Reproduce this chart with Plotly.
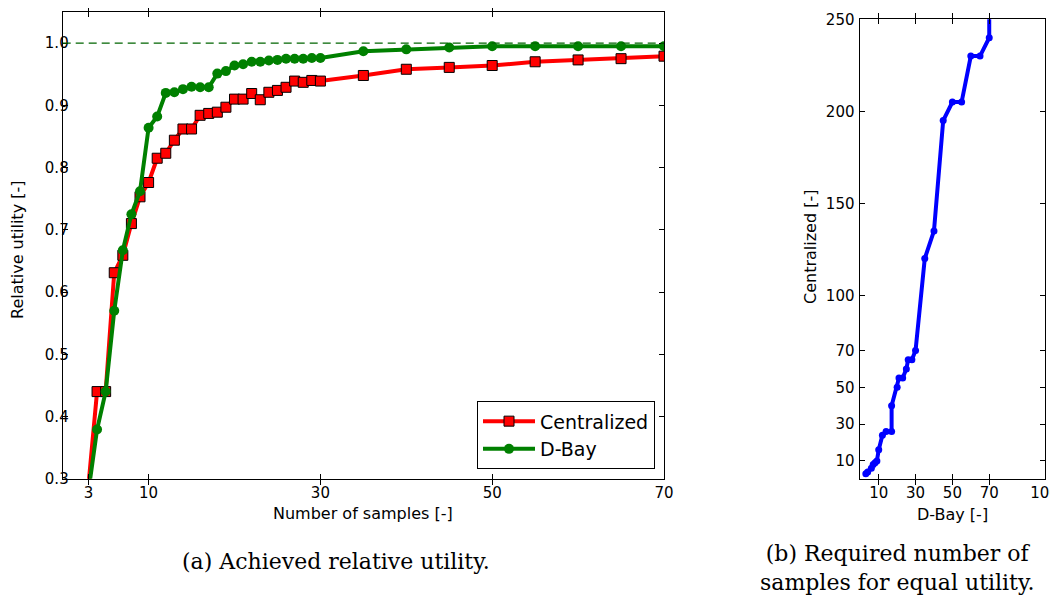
import plotly.graph_objects as go

# ---- data: left panel (relative utility vs. number of samples)
samples = [3, 4, 5, 6, 7, 8, 9, 10, 11, 12, 13, 14, 15, 16, 17, 18, 19, 20,
           21, 22, 23, 24, 25, 26, 27, 28, 29, 30, 35, 40, 45, 50, 55, 60, 65, 70]
centralized = [0.29, 0.440, 0.440, 0.631, 0.659, 0.710, 0.753, 0.776, 0.815, 0.823,
               0.844, 0.862, 0.862, 0.884, 0.887, 0.889, 0.897, 0.910, 0.910, 0.919,
               0.909, 0.921, 0.924, 0.929, 0.939, 0.937, 0.940, 0.939, 0.948, 0.958,
               0.961, 0.964, 0.970, 0.973, 0.975, 0.979]
dbay = [0.28, 0.379, 0.440, 0.570, 0.667, 0.725, 0.762, 0.864, 0.882, 0.920,
        0.921, 0.926, 0.930, 0.929, 0.929, 0.951, 0.955, 0.964, 0.966, 0.970,
        0.970, 0.972, 0.973, 0.975, 0.975, 0.975, 0.976, 0.976, 0.987, 0.990,
        0.993, 0.995, 0.995, 0.995, 0.995, 0.995]
ref_level = 1.0

left_xticks = [3, 10, 30, 50, 70]
left_yticks = [0.3, 0.4, 0.5, 0.6, 0.7, 0.8, 0.9, 1.0]

# ---- data: right panel (samples needed for equal utility)
dbay_needed = [3, 4, 6, 7, 8, 9, 10, 12, 14, 17, 17, 20, 21, 23, 25, 26, 28, 30,
               35, 40, 45, 50, 55, 60, 65, 70, 70]
central_needed = [3, 4, 6, 8, 9, 10, 16, 24, 26, 26, 40, 50, 55, 55, 60, 65, 65, 70,
                  120, 135, 195, 205, 205, 230, 230, 240, 300]
right_xticks = [10, 30, 50, 70, 100]
right_yticks = [10, 30, 50, 70, 100, 150, 200, 250]

# page is 1058x605; the html body has an 8px margin
OFF = 8
W, H = 1058 - 2 * OFF, 605 - 2 * OFF
TICKFONT = dict(family="DejaVu Sans", size=15, color="black")
LABFONT = dict(family="DejaVu Sans", size=16, color="black")
CAPFONT = dict(family="DejaVu Serif", size=22, color="black")

fig = go.Figure()

fig.add_trace(go.Scatter(
    x=samples, y=centralized, mode="lines+markers", name="Centralized",
    line=dict(color="#ff0000", width=4),
    marker=dict(symbol="square", size=10, color="#ff0000",
                line=dict(color="black", width=1)),
    xaxis="x", yaxis="y"))
fig.add_trace(go.Scatter(
    x=samples, y=dbay, mode="lines+markers", name="D-Bay",
    line=dict(color="#008000", width=4),
    marker=dict(symbol="circle", size=10, color="#008000", line=dict(width=0)),
    xaxis="x", yaxis="y"))
fig.add_trace(go.Scatter(
    x=dbay_needed, y=central_needed, mode="lines+markers", showlegend=False,
    line=dict(color="#0000ff", width=4),
    marker=dict(symbol="circle", size=7, color="#0000ff", line=dict(width=0)),
    xaxis="x2", yaxis="y2"))
# empty traces so the label-only overlay axes are drawn
fig.add_trace(go.Scatter(x=[], y=[], xaxis="x", yaxis="y3", showlegend=False,
                         hoverinfo="skip"))
fig.add_trace(go.Scatter(x=[], y=[], xaxis="x2", yaxis="y4", showlegend=False,
                         hoverinfo="skip"))

fig.add_shape(type="line", xref="x domain", yref="y", x0=0, x1=1,
              y0=ref_level, y1=ref_level,
              line=dict(color="#006400", width=1.2, dash="8px,5px"))

def px_x(p):
    return (p - OFF) / W

def px_y(p):
    return 1 - (p - OFF) / H

axis_common = dict(showline=True, linecolor="black", linewidth=1, mirror="allticks",
                   ticks="inside", ticklen=5, tickcolor="black", tickwidth=1,
                   showgrid=False, zeroline=False, tickfont=TICKFONT,
                   automargin=False)
label_axis = dict(showline=False, ticks="", showgrid=False, zeroline=False,
                  tickfont=TICKFONT, automargin=False, anchor="free", side="left")

fig.update_layout(
    template="none",
    width=W, height=H, margin=dict(l=0, r=0, t=0, b=0, pad=0),
    paper_bgcolor="white", plot_bgcolor="white",
    xaxis=dict(domain=[px_x(62.7), px_x(664)], range=[0, 70], anchor="y",
               tickvals=left_xticks, **axis_common),
    yaxis=dict(domain=[px_y(478.7), px_y(12)], range=[0.3, 1.05], anchor="x",
               tickvals=left_yticks, showticklabels=False, **axis_common),
    yaxis3=dict(overlaying="y", range=[0.3, 1.05], tickvals=left_yticks,
                tickformat=".1f", position=px_x(68.7), **label_axis),
    xaxis2=dict(domain=[px_x(860.3), px_x(1044.5)], range=[0, 100], anchor="y2",
                tickvals=right_xticks, ticklabeloverflow="allow", **axis_common),
    yaxis2=dict(domain=[px_y(479.3), px_y(19.3)], range=[0, 250], anchor="x2",
                tickvals=right_yticks, showticklabels=False, **axis_common),
    yaxis4=dict(overlaying="y2", range=[0, 250], tickvals=right_yticks,
                position=px_x(854.5), **label_axis),
    legend=dict(x=px_x(655), y=px_y(469.3), xanchor="right", yanchor="bottom",
                bgcolor="white", bordercolor="black", borderwidth=1,
                font=dict(family="DejaVu Sans", size=19, color="black"),
                tracegroupgap=4, itemwidth=52),
    showlegend=True,
)

annotations = [
    dict(text="Number of samples [-]", x=px_x(363), y=px_y(513), font=LABFONT),
    dict(text="Relative utility [-]", x=px_x(17), y=px_y(250), font=LABFONT, textangle=-90),
    dict(text="D-Bay [-]", x=px_x(952), y=px_y(514), font=LABFONT),
    dict(text="Centralized [-]", x=px_x(811), y=px_y(247), font=LABFONT, textangle=-90),
    dict(text="(a) Achieved relative utility.", x=px_x(336), y=px_y(561), font=CAPFONT),
    dict(text="(b) Required number of<br>samples for equal utility.", x=px_x(897),
         y=px_y(568), font=CAPFONT, align="center"),
]
for a in annotations:
    a.update(xref="paper", yref="paper", showarrow=False, xanchor="center", yanchor="middle")
fig.update_layout(annotations=annotations)

fig.write_html("out.html")
